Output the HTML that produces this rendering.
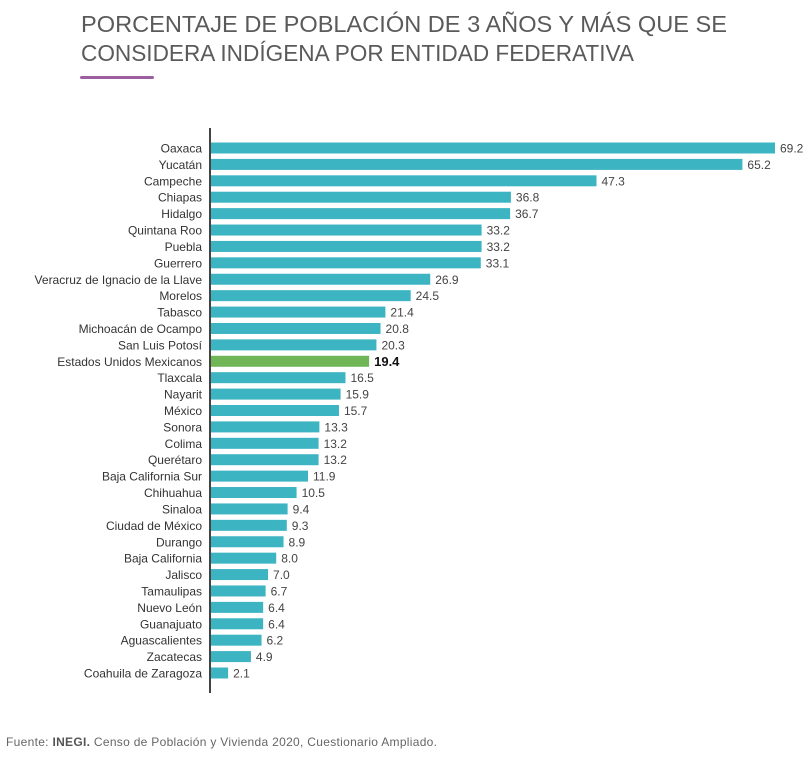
<!DOCTYPE html>
<html><head><meta charset="utf-8"><style>
body{margin:0;background:#fff;width:808px;height:756px;overflow:hidden;font-family:"Liberation Sans",sans-serif}
</style></head><body>
<svg id="chart" width="808" height="756" xmlns="http://www.w3.org/2000/svg">
<text x="81" y="32" font-size="23" fill="#5a5a5a" font-family="Liberation Sans, sans-serif" textLength="646" lengthAdjust="spacingAndGlyphs">PORCENTAJE DE POBLACIÓN DE 3 AÑOS Y MÁS QUE SE</text>
<text x="81" y="61" font-size="23" fill="#5a5a5a" font-family="Liberation Sans, sans-serif" textLength="553" lengthAdjust="spacingAndGlyphs">CONSIDERA INDÍGENA POR ENTIDAD FEDERATIVA</text>
<rect x="80" y="76" width="74" height="3" rx="1.5" fill="#9b5fa0"/>
<g id="bars"></g>
<line x1="210" y1="128" x2="210" y2="693" stroke="#444" stroke-width="2"/>
<text x="6" y="746" font-size="12" fill="#666" textLength="431" lengthAdjust="spacing">Fuente: <tspan font-weight="bold" fill="#555">INEGI.</tspan> Censo de Población y Vivienda 2020, Cuestionario Ampliado.</text>
</svg>
<script>
const categories=["Oaxaca","Yucatán","Campeche","Chiapas","Hidalgo","Quintana Roo","Puebla","Guerrero","Veracruz de Ignacio de la Llave","Morelos","Tabasco","Michoacán de Ocampo","San Luis Potosí","Estados Unidos Mexicanos","Tlaxcala","Nayarit","México","Sonora","Colima","Querétaro","Baja California Sur","Chihuahua","Sinaloa","Ciudad de México","Durango","Baja California","Jalisco","Tamaulipas","Nuevo León","Guanajuato","Aguascalientes","Zacatecas","Coahuila de Zaragoza"];
const values=[69.2,65.2,47.3,36.8,36.7,33.2,33.2,33.1,26.9,24.5,21.4,20.8,20.3,19.4,16.5,15.9,15.7,13.3,13.2,13.2,11.9,10.5,9.4,9.3,8.9,8.0,7.0,6.7,6.4,6.4,6.2,4.9,2.1];
const labels=values.map(v=>v.toFixed(1));
const x0=211, k=(775-211)/69.2;
const xs=v=>v*k;
const y0=148, step=(673-148)/32;
const ys=i=>y0+i*step;
const NS="http://www.w3.org/2000/svg";
const g=document.getElementById('bars');
categories.forEach((c,i)=>{
  const total=c==="Estados Unidos Mexicanos";
  const y=ys(i);
  const r=document.createElementNS(NS,'rect');
  
  
  r.setAttribute('x',x0);r.setAttribute('y',y-5.5);r.setAttribute('width',xs(values[i]));r.setAttribute('height',11);
  r.setAttribute('fill',total?'#70b657':'#3db4c2');
  g.appendChild(r);
  const t=document.createElementNS(NS,'text');
  
  
  t.setAttribute('x',202);t.setAttribute('y',y+4.5);t.setAttribute('text-anchor','end');
  t.setAttribute('font-size','12');t.setAttribute('fill','#333');
  t.textContent=c;g.appendChild(t);
  const v=document.createElementNS(NS,'text');
  
  
  v.setAttribute('x',x0+xs(values[i])+5);v.setAttribute('y',y+4.5);
  v.setAttribute('font-size',total?'13':'12');v.setAttribute('fill',total?'#111':'#444');
  if(total)v.setAttribute('font-weight','bold');
  v.textContent=labels[i];g.appendChild(v);
});
</script>
</body></html>
